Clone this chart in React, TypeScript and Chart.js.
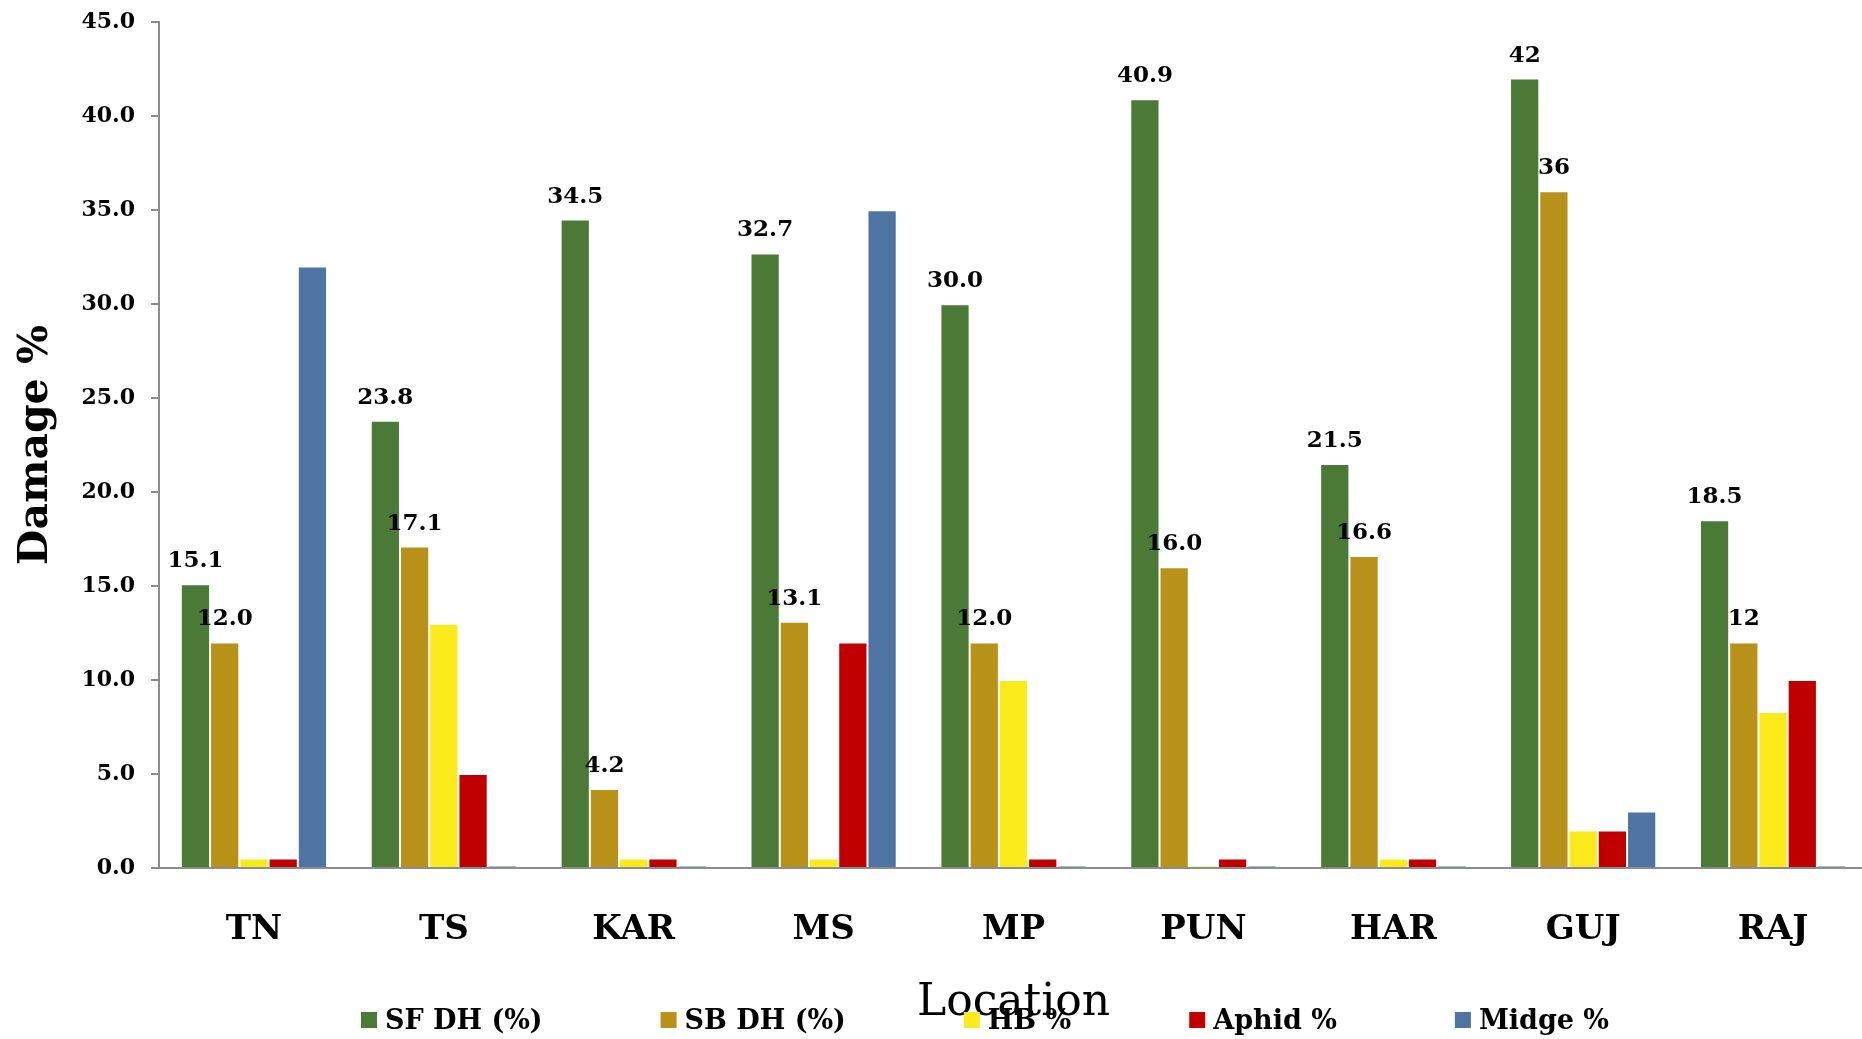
import React, { useEffect, useRef } from "react";
import { Chart, registerables } from "chart.js";

Chart.register(...registerables);

const locations = ["TN", "TS", "KAR", "MS", "MP", "PUN", "HAR", "GUJ", "RAJ"];
const seriesNames = ["SF DH (%)", "SB DH (%)", "HB %", "Aphid %", "Midge %"];
const sfDH = [15.1, 23.8, 34.5, 32.7, 30.0, 40.9, 21.5, 42, 18.5];
const sbDH = [12.0, 17.1, 4.2, 13.1, 12.0, 16.0, 16.6, 36, 12];
const hb = [0.5, 13, 0.5, 0.5, 10, 0.1, 0.5, 2, 8.3];
const aphid = [0.5, 5, 0.5, 12, 0.5, 0.5, 0.5, 2, 10];
const midge = [32, 0.1, 0.1, 35, 0.1, 0.1, 0.1, 3, 0.1];
const sfLabels = ["15.1", "23.8", "34.5", "32.7", "30.0", "40.9", "21.5", "42", "18.5"];
const sbLabels = ["12.0", "17.1", "4.2", "13.1", "12.0", "16.0", "16.6", "36", "12"];
const yMin = 0;
const yMax = 45;
const yStep = 5;

const FONT = "'DejaVu Serif', serif";
const colors = ["#4B7A37", "#B89118", "#FAEA1C", "#C00000", "#4F74A4"];
const SHIFT = 7; // canvas is drawn a few px above the page top

const dataLabelPlugin = {
  id: "dataLabels",
  afterDatasetsDraw(chart: any) {
    const ctx = chart.ctx;
    const sets = [sfLabels, sbLabels];
    ctx.save();
    ctx.font = `bold 23px ${FONT}`;
    ctx.fillStyle = "#000";
    ctx.textAlign = "center";
    ctx.textBaseline = "alphabetic";
    sets.forEach((labels, di) => {
      const meta = chart.getDatasetMeta(di);
      meta.data.forEach((el: any, i: number) => {
        ctx.fillText(labels[i], el.x, el.y - 17);
      });
    });
    ctx.restore();
  },
};

const legendPlugin = {
  id: "customLegend",
  afterDraw(chart: any) {
    const ctx = chart.ctx;
    ctx.save();
    ctx.font = `bold 27px ${FONT}`;
    ctx.textBaseline = "middle";
    ctx.textAlign = "left";
    let x = 361;
    const yc = 1020 + SHIFT;
    const box = 16;
    chart.data.datasets.forEach((ds: any) => {
      ctx.fillStyle = ds.backgroundColor;
      ctx.fillRect(x, yc - box / 2, box, box);
      ctx.fillStyle = "#000";
      const tx = x + box + 8;
      ctx.fillText(ds.label, tx, yc + 2);
      x = tx + ctx.measureText(ds.label).width + 118;
    });
    ctx.restore();
  },
};

export default function App() {
  const ref = useRef<HTMLCanvasElement | null>(null);

  useEffect(() => {
    if (!ref.current) return;
    const series = [sfDH, sbDH, hb, aphid, midge];
    const chart = new Chart(ref.current, {
      type: "bar",
      data: {
        labels: locations,
        datasets: series.map((d, i) => ({
          label: seriesNames[i],
          data: d,
          backgroundColor: colors[i],
          borderColor: "rgba(255,255,255,0.45)",
          borderWidth: 1,
          categoryPercentage: 0.77,
          barPercentage: 1.0,
        })),
      },
      options: {
        responsive: false,
        animation: false,
        layout: { padding: { left: 7, top: 15, right: 0, bottom: 9 } },
        plugins: {
          legend: { display: false },
          tooltip: { enabled: false },
        },
        scales: {
          x: {
            afterFit(scale: any) {
              scale.height = 162;
            },
            grid: { display: false, drawTicks: false },
            border: { display: true, color: "#8c8c8c", width: 2 },
            ticks: {
              color: "#000",
              font: { family: FONT, size: 34, weight: "bold" },
              padding: 42,
            },
            title: {
              display: true,
              text: "Location",
              color: "#000",
              font: { family: FONT, size: 44 },
              padding: { top: 0, bottom: 0 },
            },
          },
          y: {
            min: yMin,
            max: yMax,
            afterFit(scale: any) {
              scale.width = 152;
            },
            grid: {
              display: true,
              drawOnChartArea: false,
              drawTicks: true,
              tickLength: 8,
              color: "#8c8c8c",
              lineWidth: 2,
            },
            border: { display: true, color: "#8c8c8c", width: 2 },
            ticks: {
              stepSize: yStep,
              color: "#000",
              font: { family: FONT, size: 22, weight: "bold" },
              padding: 16,
              callback: (v: any) => Number(v).toFixed(1),
            },
            title: {
              display: true,
              text: "Damage %",
              color: "#000",
              font: { family: FONT, size: 41, weight: "bold" },
              padding: { top: 5, bottom: 0 },
            },
          },
        },
      },
      plugins: [dataLabelPlugin, legendPlugin],
    });
    return () => chart.destroy();
  }, []);

  return (
    <div
      style={{
        position: "fixed",
        left: 0,
        top: 0,
        width: 1862,
        height: 1039,
        overflow: "hidden",
        background: "#fff",
      }}
    >
      <canvas
        ref={ref}
        width={1868}
        height={1039 + SHIFT}
        style={{ display: "block", marginTop: -SHIFT }}
      />
    </div>
  );
}
